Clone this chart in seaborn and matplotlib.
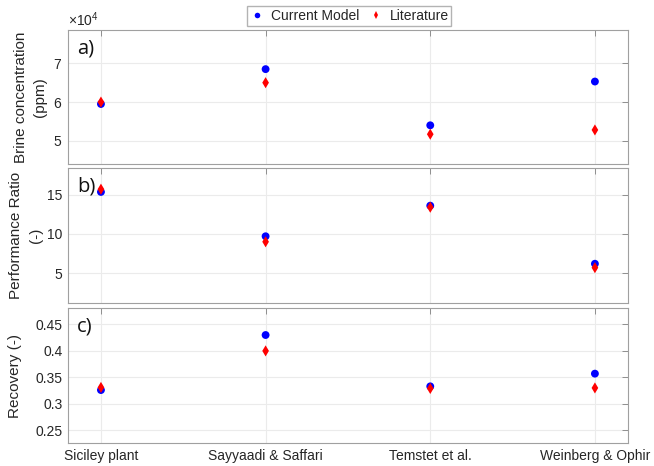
import numpy as np
import matplotlib
matplotlib.use("Agg")
import matplotlib.pyplot as plt
import matplotlib.ticker as mticker
import pandas as pd
import seaborn as sns

# data
plants = ["Siciley plant", "Sayyaadi & Saffari", "Temstet et al.", "Weinberg & Ophir"]
brine_model = [59500, 68500, 54000, 65300]
brine_lit = [60000, 65000, 51700, 52800]
pr_model = [15.35, 9.7, 13.6, 6.2]
pr_lit = [15.7, 9.0, 13.4, 5.7]
rec_model = [0.326, 0.43, 0.333, 0.357]
rec_lit = [0.331, 0.40, 0.329, 0.330]
series = ["Current Model", "Literature"]

sns.set_theme(style="white")
plt.rcParams["font.family"] = ["Liberation Sans", "DejaVu Sans"]
plt.rcParams["mathtext.fontset"] = "custom"
plt.rcParams["mathtext.rm"] = "Liberation Sans"
plt.rcParams["mathtext.it"] = "Liberation Sans"
txt = "#262626"

fig = plt.figure(figsize=(6.54, 4.66), dpi=100)
left, width = 0.104, 0.856
boxes = [(0.648, 0.2876), (0.3498, 0.2897), (0.0494, 0.2896)]
axes = [fig.add_axes([left, b, width, h]) for b, h in boxes]

panels = [
    (brine_model, brine_lit, "Brine concentration\n(ppm)", (44000, 78600), [50000, 60000, 70000], "a)", -0.037),
    (pr_model, pr_lit, "Performance Ratio\n(-)", (1.2, 18.4), [5, 10, 15], "b)", -0.045),
    (rec_model, rec_lit, "Recovery (-)", (0.226, 0.481), [0.25, 0.3, 0.35, 0.4, 0.45], "c)", -0.083),
]

for i, (ax, (m, l, lab, ylim, yt, tag, lx)) in enumerate(zip(axes, panels)):
    df = pd.DataFrame({
        "plant": plants * 2,
        "value": m + l,
        "series": [series[0]] * 4 + [series[1]] * 4,
    })
    sns.scatterplot(data=df, x="plant", y="value", hue="series", style="series",
                    palette={"Current Model": "#0000ff", "Literature": "#ff0000"},
                    markers={"Current Model": "o", "Literature": "d"},
                    s=32, linewidth=0, ax=ax, legend=(i == 0), zorder=3)
    ax.set_xlim(-0.2, 3.2)
    ax.set_ylim(*ylim)
    ax.set_yticks(yt)
    ax.set_xticks(range(4))
    ax.grid(True, color="#ebebeb", linewidth=0.8)
    ax.set_axisbelow(True)
    ax.set_xlabel("")
    ax.set_ylabel(lab, fontsize=11, color=txt, linespacing=1.5)
    ax.yaxis.set_label_coords(lx, 0.5)
    ax.tick_params(direction="in", top=True, right=True, length=4, width=0.6,
                   colors="#808080", labelcolor=txt, labelsize=10, pad=4)
    for sp in ax.spines.values():
        sp.set_color("#a0a0a0")
        sp.set_linewidth(0.8)
    ax.text(0.016, 0.94, tag, transform=ax.transAxes, fontsize=14.5,
            family="Open Sans", color="#111111", va="top", ha="left")
    if i < 2:
        ax.set_xticklabels([])
    else:
        ax.set_xticklabels(plants)
        ax.yaxis.set_major_formatter(mticker.FormatStrFormatter("%g"))

fmt = mticker.ScalarFormatter(useMathText=True)
fmt.set_powerlimits((0, 0))
axes[0].yaxis.set_major_formatter(fmt)
axes[0].yaxis.get_offset_text().set_fontsize(10)
axes[0].yaxis.get_offset_text().set_color(txt)

# legend above the top panel
h, labs = axes[0].get_legend_handles_labels()
axes[0].get_legend().remove()
for hh in h:
    hh.set_markersize(4)
fig.legend(h, labs, loc="center", bbox_to_anchor=(0.534, 0.966), ncol=2,
           frameon=True, fancybox=False, edgecolor="#a0a0a0", fontsize=10,
           handletextpad=0.5, columnspacing=0.7, borderpad=0.2,
           handlelength=1.0, labelcolor=txt)

fig.savefig("out.png", dpi=100)
